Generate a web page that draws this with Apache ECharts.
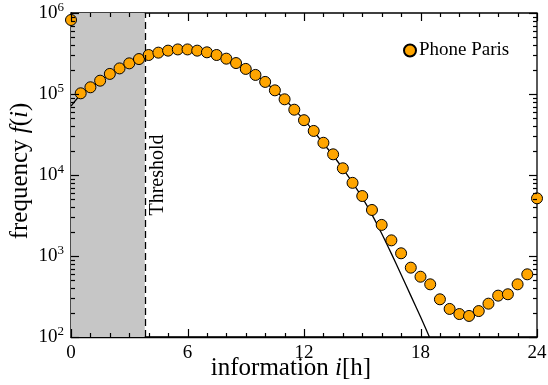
<!DOCTYPE html>
<html>
<head>
<meta charset="utf-8">
<script src="https://cdn.jsdelivr.net/npm/echarts@6/dist/echarts.min.js"></script>
<style>
  html, body { margin: 0; padding: 0; background: #fff; }
  #chart { width: 548px; height: 385px; }
</style>
</head>
<body>
<div id="chart"></div>
<script>
// measured frequencies, one point every half hour
const hours = [0, 0.5, 1, 1.5, 2, 2.5, 3, 3.5, 4, 4.5, 5, 5.5, 6, 6.5, 7, 7.5, 8, 8.5, 9, 9.5,
  10, 10.5, 11, 11.5, 12, 12.5, 13, 13.5, 14, 14.5, 15, 15.5, 16, 16.5, 17, 17.5, 18, 18.5, 19, 19.5,
  20, 20.5, 21, 21.5, 22, 22.5, 23, 23.5, 24];
const phoneParis = [820000, 102000, 121000, 146000, 177000, 207000, 239000, 270000, 303000, 324000,
  343000, 355000, 355000, 343000, 327000, 303000, 273000, 241000, 204000, 172000,
  141000, 111000, 86000, 64000, 47500, 35000, 25000, 18000, 12100, 8000,
  5500, 3700, 2420, 1560, 1080, 718, 555, 447, 292, 222,
  192, 182, 209, 258, 324, 337, 447, 594, 5150];

// fitted curve
const fitHours = [0, 0.5, 1, 1.5, 2, 2.5, 3, 3.5, 4, 4.5, 5, 5.5, 6, 6.5, 7, 7.5, 8, 8.5, 9, 9.5,
  10, 10.5, 11, 11.5, 12, 12.5, 13, 13.5, 14, 14.5, 15, 15.5, 16, 16.5, 17, 17.5, 18, 18.5];
const fitValues = [71000, 98000, 120000, 145000, 176000, 207000, 239000, 269000, 299000, 324000,
  343000, 355000, 357000, 351000, 331000, 305000, 275000, 243000, 207000, 172000,
  140000, 111000, 86000, 64600, 47900, 34700, 24500, 17400, 12000, 8040,
  5250, 3240, 1900, 1070, 590, 324, 178, 95];

const threshold = 3.8;

// tick positions (drawn on all four sides, pointing inwards)
const xMajorTicks = [0, 6, 12, 18, 24];
const xMinorTicks = [1, 2, 3, 4, 5, 7, 8, 9, 10, 11, 13, 14, 15, 16, 17, 19, 20, 21, 22, 23];
const yMajorTicks = [100, 1000, 10000, 100000, 1000000];
const yMinorTicks = [200, 300, 400, 500, 600, 700, 800, 900,
  2000, 3000, 4000, 5000, 6000, 7000, 8000, 9000,
  20000, 30000, 40000, 50000, 60000, 70000, 80000, 90000,
  200000, 300000, 400000, 500000, 600000, 700000, 800000, 900000];

const serif = "Liberation Serif";

const chart = echarts.init(document.getElementById("chart"));

const supLabel = (v) => {
  const n = Math.round(Math.log10(v));
  return "{b|10}{e|" + n + "}";
};

// tick rows: [value, length]
const xTickRows = xMajorTicks.map((v) => [v, 8]).concat(xMinorTicks.map((v) => [v, 4]));
const yTickRows = yMajorTicks.map((v) => [8, v]).concat(yMinorTicks.map((v) => [4, v]));
const tickStyle = { stroke: "#000", lineWidth: 1.2 };

const opt = {
  animation: false,
  grid: {
    left: 71, right: 11, top: 13, bottom: 48, outerBoundsMode: "none",
    show: true, borderColor: "#000", borderWidth: 1.3, backgroundColor: "transparent",
  },
  legend: {
    left: 398, top: 36,
    itemWidth: 12, itemHeight: 12,
    textStyle: { fontFamily: serif, fontSize: 19, color: "#000", padding: [0, 0, 0, -2] },
    data: [{ name: "Phone Paris", icon: "circle" }],
  },
  xAxis: {
    type: "value", min: 0, max: 24, interval: 6,
    name: "information {i|i}[h]", nameLocation: "middle", nameGap: 19, nameMoveOverlap: false,
    nameTextStyle: { fontFamily: serif, fontSize: 25, color: "#000", padding: [0, 26, 0, 0],
      rich: { i: { fontFamily: serif, fontStyle: "italic", fontSize: 25, color: "#000" } } },
    axisLine: { show: true, onZero: false, lineStyle: { color: "#000", width: 1.3 } },
    axisTick: { show: false },
    splitLine: { show: false },
    axisLabel: { fontFamily: serif, fontSize: 19, color: "#000", margin: 7 },
  },
  yAxis: {
    type: "log", logBase: 10, min: 100, max: 1000000,
    name: "frequency {i|f}({i|i})", nameLocation: "middle", nameGap: 38, nameRotate: 90,
    nameMoveOverlap: false,
    nameTextStyle: { fontFamily: serif, fontSize: 25, color: "#000", padding: [0, 0, 0, 8],
      rich: { i: { fontFamily: serif, fontStyle: "italic", fontSize: 25, color: "#000" } } },
    axisLine: { show: true, onZero: false, lineStyle: { color: "#000", width: 1.3 } },
    axisTick: { show: false },
    splitLine: { show: false },
    axisLabel: {
      formatter: supLabel, margin: 7,
      rich: {
        b: { fontFamily: serif, fontSize: 19, color: "#000" },
        e: { fontFamily: serif, fontSize: 13, color: "#000", padding: [0, 0, 11, 0] },
      },
    },
  },
  series: [
    {
      name: "fit",
      type: "line",
      data: fitHours.map((h, k) => [h, fitValues[k]]),
      smooth: 0.3,
      showSymbol: false,
      lineStyle: { color: "#000", width: 1.3 },
      z: 3,
      markArea: {
        silent: true,
        itemStyle: { color: "#c6c6c6" },
        data: [[{ xAxis: 0 }, { xAxis: threshold }]],
      },
      markLine: {
        silent: true,
        symbol: "none",
        lineStyle: { color: "#000", type: [7, 4], width: 1.3 },
        label: {
          show: true, position: "insideMiddleBottom", formatter: "Threshold",
          fontFamily: serif, fontSize: 20, color: "#000", distance: 3,
        },
        data: [{ xAxis: threshold }],
      },
    },
    {
      name: "Phone Paris",
      type: "scatter",
      data: hours.map((h, k) => [h, phoneParis[k]]),
      symbol: "circle",
      symbolSize: 11,
      clip: false,
      itemStyle: { color: "#FFA500", opacity: 1, borderColor: "#000", borderWidth: 1 },
      z: 4,
    },
    {
      // x ticks, bottom and top
      name: "xticks",
      type: "custom",
      silent: true,
      clip: false,
      z: 10,
      data: xTickRows,
      encode: { x: 0, y: 1 },
      renderItem: (params, api) => {
        const v = api.value(0), len = api.value(1);
        const b = api.coord([v, 100]), t = api.coord([v, 1000000]);
        const x = Math.round(b[0]) + 0.5;
        return {
          type: "group",
          children: [
            { type: "line", shape: { x1: x, y1: b[1], x2: x, y2: b[1] - len }, style: tickStyle },
            { type: "line", shape: { x1: x, y1: t[1], x2: x, y2: t[1] + len }, style: tickStyle },
          ],
        };
      },
    },
    {
      // y ticks, left and right
      name: "yticks",
      type: "custom",
      silent: true,
      clip: false,
      z: 10,
      data: yTickRows,
      encode: { x: 0, y: 1 },
      renderItem: (params, api) => {
        const len = api.value(0), v = api.value(1);
        const l = api.coord([0, v]), r = api.coord([24, v]);
        const y = Math.round(l[1]) + 0.5;
        return {
          type: "group",
          children: [
            { type: "line", shape: { x1: l[0], y1: y, x2: l[0] + len, y2: y }, style: tickStyle },
            { type: "line", shape: { x1: r[0], y1: y, x2: r[0] - len, y2: y }, style: tickStyle },
          ],
        };
      },
    },
  ],
};

chart.setOption(opt);
</script>
</body>
</html>
